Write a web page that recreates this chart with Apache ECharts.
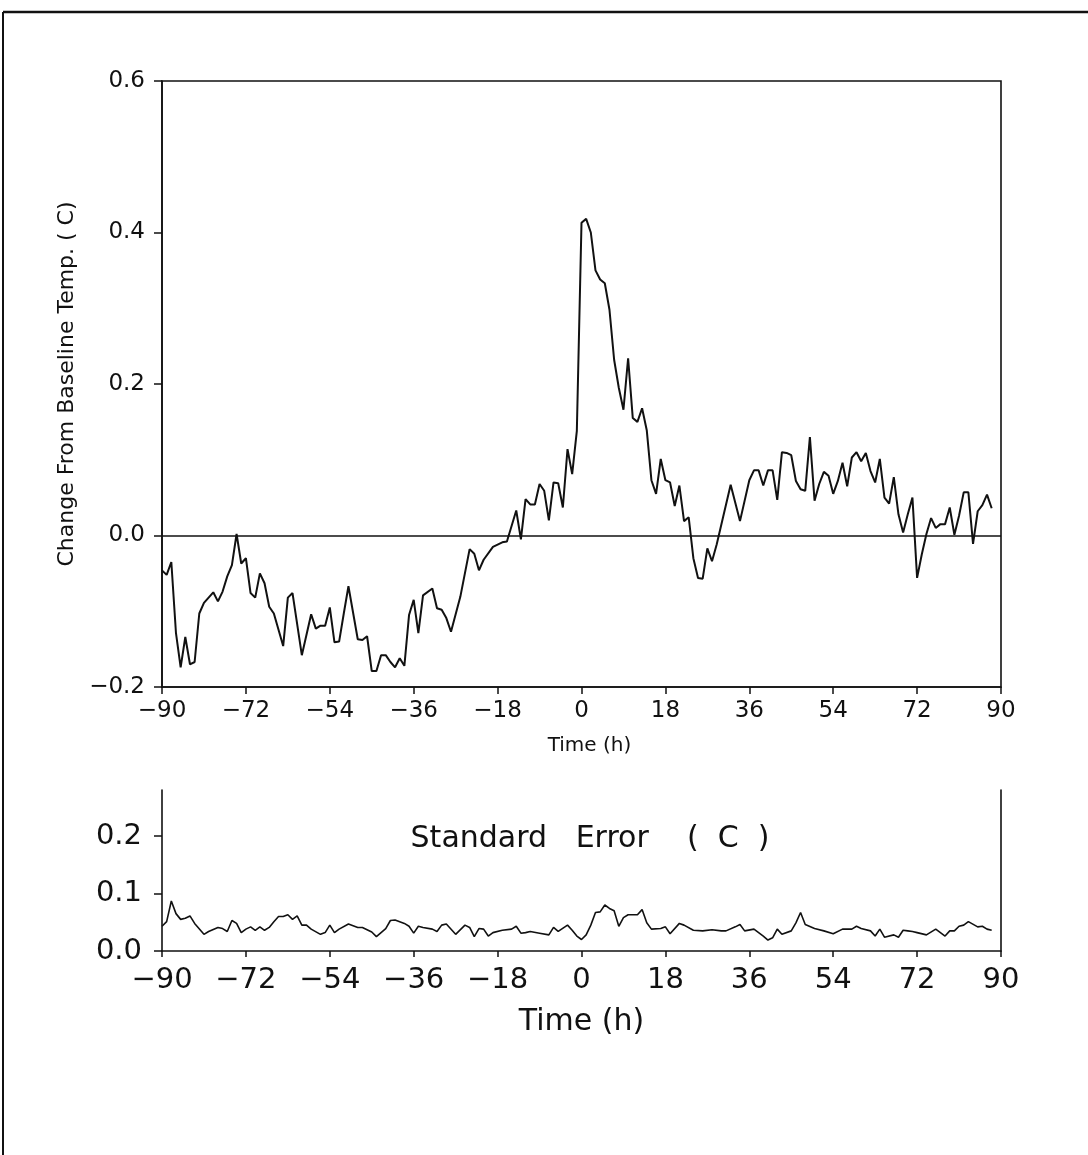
<!DOCTYPE html>
<html>
<head>
<meta charset="utf-8">
<script src="https://cdn.jsdelivr.net/npm/echarts@6/dist/echarts.min.js"></script>
<style>
html,body{margin:0;padding:0;background:#fff;}
#chart{width:1088px;height:1155px;}
</style>
</head>
<body>
<div id="chart"></div>
<script>
// ---- Data ----
const tempHours = [-90,-89,-88,-87,-86,-85,-84,-83,-82,-81,-79,-78,-77,-76,-75,-74,-73,-72,-71,-70,-69,-68,-67,-66,-64,-63,-62,-60,-58,-57,-56,-55,-54,-53,-52,-51,-50,-48,-47,-46,-45,-44,-43,-42,-41,-40,-39,-38,-37,-36,-35,-34,-32,-31,-30,-29,-28,-26,-24,-23,-22,-21,-19,-18,-17,-16,-14,-13,-12,-11,-10,-9,-8,-7,-6,-5,-4,-3,-2,-1,0,1,2,3,4,5,6,7,8,9,10,11,12,13,14,15,16,17,18,19,20,21,22,23,24,25,26,27,28,29,32,34,36,37,38,39,40,41,42,43,44,45,46,47,48,49,50,51,52,53,54,55,56,57,58,59,60,61,62,63,64,65,66,67,68,69,70,71,72,73,74,75,76,77,78,79,80,81,82,83,84,85,86,87,88];
const tempValues = [-0.046,-0.052,-0.035,-0.129,-0.174,-0.134,-0.170,-0.167,-0.103,-0.089,-0.075,-0.087,-0.074,-0.054,-0.039,0.002,-0.037,-0.030,-0.076,-0.082,-0.050,-0.063,-0.094,-0.103,-0.146,-0.082,-0.076,-0.158,-0.104,-0.123,-0.119,-0.119,-0.095,-0.141,-0.140,-0.103,-0.067,-0.137,-0.138,-0.133,-0.179,-0.179,-0.158,-0.158,-0.167,-0.174,-0.162,-0.172,-0.105,-0.085,-0.129,-0.079,-0.070,-0.096,-0.098,-0.109,-0.127,-0.081,-0.018,-0.024,-0.046,-0.032,-0.015,-0.012,-0.009,-0.008,0.033,-0.005,0.048,0.041,0.041,0.068,0.059,0.020,0.070,0.069,0.037,0.114,0.081,0.138,0.413,0.418,0.400,0.350,0.338,0.333,0.298,0.232,0.195,0.166,0.234,0.155,0.150,0.168,0.139,0.073,0.055,0.101,0.073,0.070,0.039,0.066,0.019,0.024,-0.030,-0.056,-0.057,-0.017,-0.034,-0.012,0.067,0.019,0.073,0.086,0.086,0.066,0.086,0.086,0.047,0.110,0.109,0.106,0.072,0.061,0.059,0.130,0.046,0.068,0.084,0.079,0.055,0.072,0.096,0.065,0.103,0.110,0.098,0.109,0.085,0.070,0.101,0.050,0.042,0.077,0.028,0.004,0.028,0.050,-0.056,-0.025,0.002,0.023,0.010,0.015,0.015,0.037,0.001,0.026,0.057,0.057,-0.011,0.032,0.040,0.054,0.036];

const seHours = [-90,-89,-88,-87,-86,-85,-84,-83,-81,-80,-78,-77,-76,-75,-74,-73,-72,-71,-70,-69,-68,-67,-66,-65,-64,-63,-62,-61,-60,-59,-58,-56,-55,-54,-53,-52,-50,-48,-47,-45,-44,-42,-41,-40,-38,-37,-36,-35,-34,-32,-31,-30,-29,-27,-25,-24,-23,-22,-21,-20,-19,-17,-15,-14,-13,-12,-11,-9,-7,-6,-5,-3,-2,-1,0,1,2,3,4,5,6,7,8,9,10,12,13,14,15,17,18,19,21,22,24,26,28,30,31,33,34,35,37,38,39,40,41,42,43,45,46,47,48,50,52,54,56,58,59,60,62,63,64,65,67,68,69,70,71,72,74,76,78,79,80,81,82,83,85,86,87,88];
const seValues = [0.043,0.051,0.087,0.065,0.055,0.057,0.061,0.048,0.029,0.034,0.041,0.039,0.034,0.053,0.048,0.032,0.038,0.042,0.036,0.042,0.036,0.041,0.051,0.060,0.060,0.063,0.055,0.061,0.045,0.045,0.038,0.029,0.032,0.045,0.032,0.038,0.047,0.041,0.041,0.033,0.025,0.039,0.053,0.054,0.048,0.043,0.031,0.043,0.041,0.038,0.034,0.045,0.047,0.029,0.045,0.041,0.025,0.039,0.038,0.026,0.032,0.036,0.038,0.043,0.031,0.032,0.034,0.031,0.028,0.041,0.034,0.045,0.036,0.026,0.020,0.028,0.045,0.067,0.068,0.080,0.074,0.070,0.043,0.058,0.063,0.063,0.072,0.049,0.038,0.039,0.042,0.030,0.048,0.045,0.036,0.035,0.037,0.035,0.035,0.042,0.046,0.035,0.038,0.032,0.026,0.019,0.023,0.038,0.029,0.035,0.049,0.067,0.046,0.039,0.035,0.030,0.038,0.038,0.043,0.039,0.035,0.026,0.038,0.024,0.028,0.024,0.036,0.035,0.034,0.032,0.028,0.038,0.026,0.035,0.035,0.043,0.045,0.051,0.042,0.043,0.038,0.036];

const xTicks = [-90,-72,-54,-36,-18,0,18,36,54,72,90];
const topYTicks = [-0.2,0,0.2,0.4,0.6];
const seYTicks = [0,0.1,0.2];

const topTitleY = 'Change From Baseline Temp. ( C)';
const xTitle = 'Time (h)';
const seTitle = 'Standard   Error    (  C  )';

// ---- Build ----
const zip = (a, b) => a.map((v, i) => [v, b[i]]);
const fmtX = v => (v < 0 ? '\u2212' + Math.abs(v) : String(v));
const fmtY = v => (v < 0 ? '\u2212' + Math.abs(v).toFixed(1) : v.toFixed(1));
const FONT = 'DejaVu Sans';
const BLACK = '#111';

const chart = echarts.init(document.getElementById('chart'), null, {renderer: 'canvas'});
chart.setOption({
  backgroundColor: '#fff',
  animation: false,
  textStyle: {fontFamily: FONT, color: BLACK},
  grid: [
    {left: 162, top: 81, width: 839, height: 606, show: true, borderColor: BLACK, borderWidth: 1.6, backgroundColor: 'transparent'},
    {left: 162, top: 790, width: 839, height: 161}
  ],
  graphic: [
    {type: 'line', shape: {x1: 3, y1: 12, x2: 1088, y2: 12}, style: {stroke: BLACK, lineWidth: 2.5}},
    {type: 'line', shape: {x1: 3, y1: 12, x2: 3, y2: 1155}, style: {stroke: BLACK, lineWidth: 2}},
    {type: 'text', x: 590, y: 839, style: {text: seTitle, font: '30px "DejaVu Sans"', fill: BLACK, align: 'center', verticalAlign: 'middle'}}
  ],
  xAxis: [
    {
      type: 'value', gridIndex: 0, min: -90, max: 90, interval: 18,
      name: xTitle, nameLocation: 'middle', nameGap: 49,
      nameTextStyle: {fontSize: 20, fontFamily: FONT, color: BLACK, padding: [0, 0, 0, 16]},
      axisLine: {show: true, onZero: false, lineStyle: {color: BLACK, width: 1.6}},
      axisTick: {show: true, length: 7, inside: false, lineStyle: {color: BLACK, width: 1.5}},
      axisLabel: {formatter: fmtX, fontSize: 23, margin: 13, color: BLACK, fontFamily: FONT, customValues: xTicks},
      splitLine: {show: false}
    },
    {
      type: 'value', gridIndex: 1, min: -90, max: 90, interval: 18,
      name: xTitle, nameLocation: 'middle', nameGap: 56,
      nameTextStyle: {fontSize: 30, fontFamily: FONT, color: BLACK},
      axisLine: {show: true, onZero: false, lineStyle: {color: BLACK, width: 1.6}},
      axisTick: {show: true, length: 6, lineStyle: {color: BLACK, width: 1.5}},
      axisLabel: {formatter: fmtX, fontSize: 29, margin: 15, color: BLACK, fontFamily: FONT, customValues: xTicks},
      splitLine: {show: false}
    }
  ],
  yAxis: [
    {
      type: 'value', gridIndex: 0, min: -0.2, max: 0.6, interval: 0.2,
      name: topTitleY, nameLocation: 'middle', nameGap: 82, nameRotate: 90,
      nameTextStyle: {fontSize: 22, fontFamily: FONT, color: BLACK},
      axisLine: {show: true, onZero: false, lineStyle: {color: BLACK, width: 1.6}},
      axisTick: {show: true, length: 8, lineStyle: {color: BLACK, width: 1.5}},
      axisLabel: {formatter: fmtY, fontSize: 23, margin: 17, color: BLACK, fontFamily: FONT, customValues: topYTicks},
      splitLine: {show: false}
    },
    {
      type: 'value', gridIndex: 1, min: 0, max: 0.28,
      axisLine: {show: true, onZero: false, lineStyle: {color: BLACK, width: 1.6}},
      axisTick: {show: true, length: 8, lineStyle: {color: BLACK, width: 1.5}, customValues: seYTicks},
      axisLabel: {formatter: fmtY, fontSize: 29, margin: 20, color: BLACK, fontFamily: FONT, customValues: seYTicks},
      splitLine: {show: false}
    },
    {
      type: 'value', gridIndex: 1, min: 0, max: 0.28, position: 'right',
      axisLine: {show: true, onZero: false, lineStyle: {color: BLACK, width: 1.6}},
      axisTick: {show: false}, axisLabel: {show: false}, splitLine: {show: false}
    }
  ],
  series: [
    {
      type: 'line', xAxisIndex: 0, yAxisIndex: 0, data: zip(tempHours, tempValues),
      showSymbol: false, symbol: 'none', lineStyle: {color: BLACK, width: 2}, silent: true,
      markLine: {silent: true, symbol: 'none', label: {show: false}, lineStyle: {color: BLACK, width: 1.5, type: 'solid'}, data: [{yAxis: 0}]}
    },
    {
      type: 'line', xAxisIndex: 1, yAxisIndex: 1, data: zip(seHours, seValues),
      showSymbol: false, symbol: 'none', lineStyle: {color: BLACK, width: 1.6}, silent: true
    }
  ]
});
</script>
</body>
</html>
